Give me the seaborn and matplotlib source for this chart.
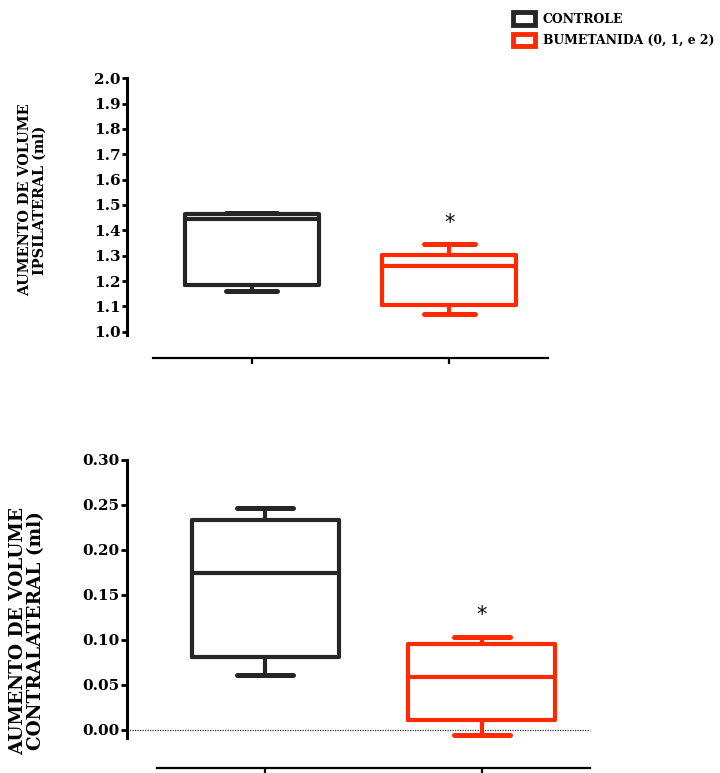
import matplotlib
matplotlib.use("Agg")
import matplotlib.pyplot as plt
from matplotlib.patches import Patch
import pandas as pd
import seaborn as sns

grupos = ["CONTROLE", "BUMETANIDA (0, 1, e 2)"]
cores = ["#262626", "#FF2A00"]

# five-number summaries per group (min, Q1, median, Q3, max), volume in ml
ipsi_controle = [1.16, 1.185, 1.445, 1.465, 1.47]
ipsi_bumetanida = [1.07, 1.107, 1.26, 1.304, 1.347]
contra_controle = [0.061, 0.0815, 0.174, 0.233, 0.247]
contra_bumetanida = [-0.006, 0.011, 0.059, 0.0956, 0.103]

ipsi_ticks = [1.0, 1.1, 1.2, 1.3, 1.4, 1.5, 1.6, 1.7, 1.8, 1.9, 2.0]
ipsi_ticklabels = ["1.0", "1.1", "1.2", "1.3", "1.4", "1.5", "1.6", "1.7", "1.8", "1.9", "2.0"]
contra_ticks = [0.00, 0.05, 0.10, 0.15, 0.20, 0.25, 0.30]
contra_ticklabels = ["0.00", "0.05", "0.10", "0.15", "0.20", "0.25", "0.30"]

ipsi_ylabel = "AUMENTO DE VOLUME\nIPSILATERAL (ml)"
contra_ylabel = "AUMENTO DE VOLUME\nCONTRALATERAL (ml)"
asterisco_ipsi = 1.43
asterisco_contra = 0.128

sns.set_theme(style="ticks")
plt.rcParams["font.family"] = ["DejaVu Serif"]
plt.rcParams["font.weight"] = "bold"
plt.rcParams["text.color"] = "black"
plt.rcParams["axes.labelcolor"] = "black"
plt.rcParams["xtick.color"] = "black"
plt.rcParams["ytick.color"] = "black"

W, H = 720, 773
fig = plt.figure(figsize=(W / 100, H / 100), dpi=100)
ax1 = fig.add_axes([153 / W, 1 - 335.5 / H, 395 / W, (335.5 - 78.3) / H])
ax2 = fig.add_axes([157 / W, 1 - 738 / H, 433 / W, (738 - 460) / H])


def painel(ax, controle, bumetanida, ticks, ticklabels, ylim, labelsize,
           ticklen, ylabel, ylabelsize, label_xy, off_left, off_bottom):
    df = pd.DataFrame({
        "grupo": [grupos[0]] * len(controle) + [grupos[1]] * len(bumetanida),
        "valor": controle + bumetanida,
    })
    sns.boxplot(
        data=df, x="grupo", y="valor", hue="grupo",
        palette=dict(zip(grupos, cores)), fill=False, width=0.68,
        whis=(0, 100), linewidth=3, legend=False, ax=ax,
        capwidths=0.26,
        capprops=dict(linewidth=3.6, solid_capstyle="round"),
        boxprops=dict(solid_joinstyle="round"),
        medianprops=dict(linewidth=3),
    )
    ax.set_xlim(-0.5, 1.5)
    ax.set_ylim(*ylim)
    ax.set_yticks(ticks)
    ax.set_yticklabels(ticklabels, fontsize=labelsize, fontweight="bold")
    ax.set_xticks([0, 1])
    ax.set_xticklabels(["", ""])
    ax.set_xlabel("")
    ax.set_ylabel(ylabel, fontsize=ylabelsize, fontweight="bold",
                  va="center", linespacing=1.05)
    ax.yaxis.set_label_coords(*label_xy)
    for s in ("top", "right"):
        ax.spines[s].set_visible(False)
    ax.spines["left"].set_position(("outward", off_left))
    ax.spines["bottom"].set_position(("outward", off_bottom))
    ax.spines["left"].set_linewidth(2.2)
    ax.spines["bottom"].set_linewidth(1.6)
    ax.spines["left"].set_color("black")
    ax.spines["bottom"].set_color("black")
    ax.tick_params(axis="y", length=ticklen, width=2, pad=1)
    ax.tick_params(axis="x", length=4, width=1.6)
    ax.set_facecolor("white")


painel(ax1, ipsi_controle, ipsi_bumetanida, ipsi_ticks, ipsi_ticklabels,
       (0.985, 2.0), 9.0, 3.5, ipsi_ylabel, 10.4, (-0.306, 0.527), 26 * 0.72, 22 * 0.72)
painel(ax2, contra_controle, contra_bumetanida, contra_ticks, contra_ticklabels,
       (-0.009, 0.30), 9.2, 4.5, contra_ylabel, 13.3, (-0.30, 0.385), 30 * 0.72, 30 * 0.72)

# reference line at zero, running from the y axis across the panel
ax2.axhline(0, xmin=-30 / 433, xmax=1, color="#333333", lw=0.9,
            ls=(0, (1, 1)), clip_on=False, zorder=0)

# significance marks
ax1.text(1, asterisco_ipsi, "*", ha="center", va="center", fontsize=15,
         family="DejaVu Sans", fontweight="normal")
ax2.text(1, asterisco_contra, "*", ha="center", va="center", fontsize=15,
         family="DejaVu Sans", fontweight="normal")

handles = [Patch(facecolor="white", edgecolor=c, linewidth=3.5, label=g)
           for g, c in zip(grupos, cores)]
fig.legend(handles=handles, loc="upper left", bbox_to_anchor=(513 / W, 1 - 12 / H),
           frameon=False, handlelength=1.8, handleheight=1.2,
           handletextpad=0.6, labelspacing=0.65, borderpad=0, borderaxespad=0,
           prop=dict(weight="bold", size=8.9, family="DejaVu Serif"))

fig.savefig("out.png", dpi=100, facecolor="white")
